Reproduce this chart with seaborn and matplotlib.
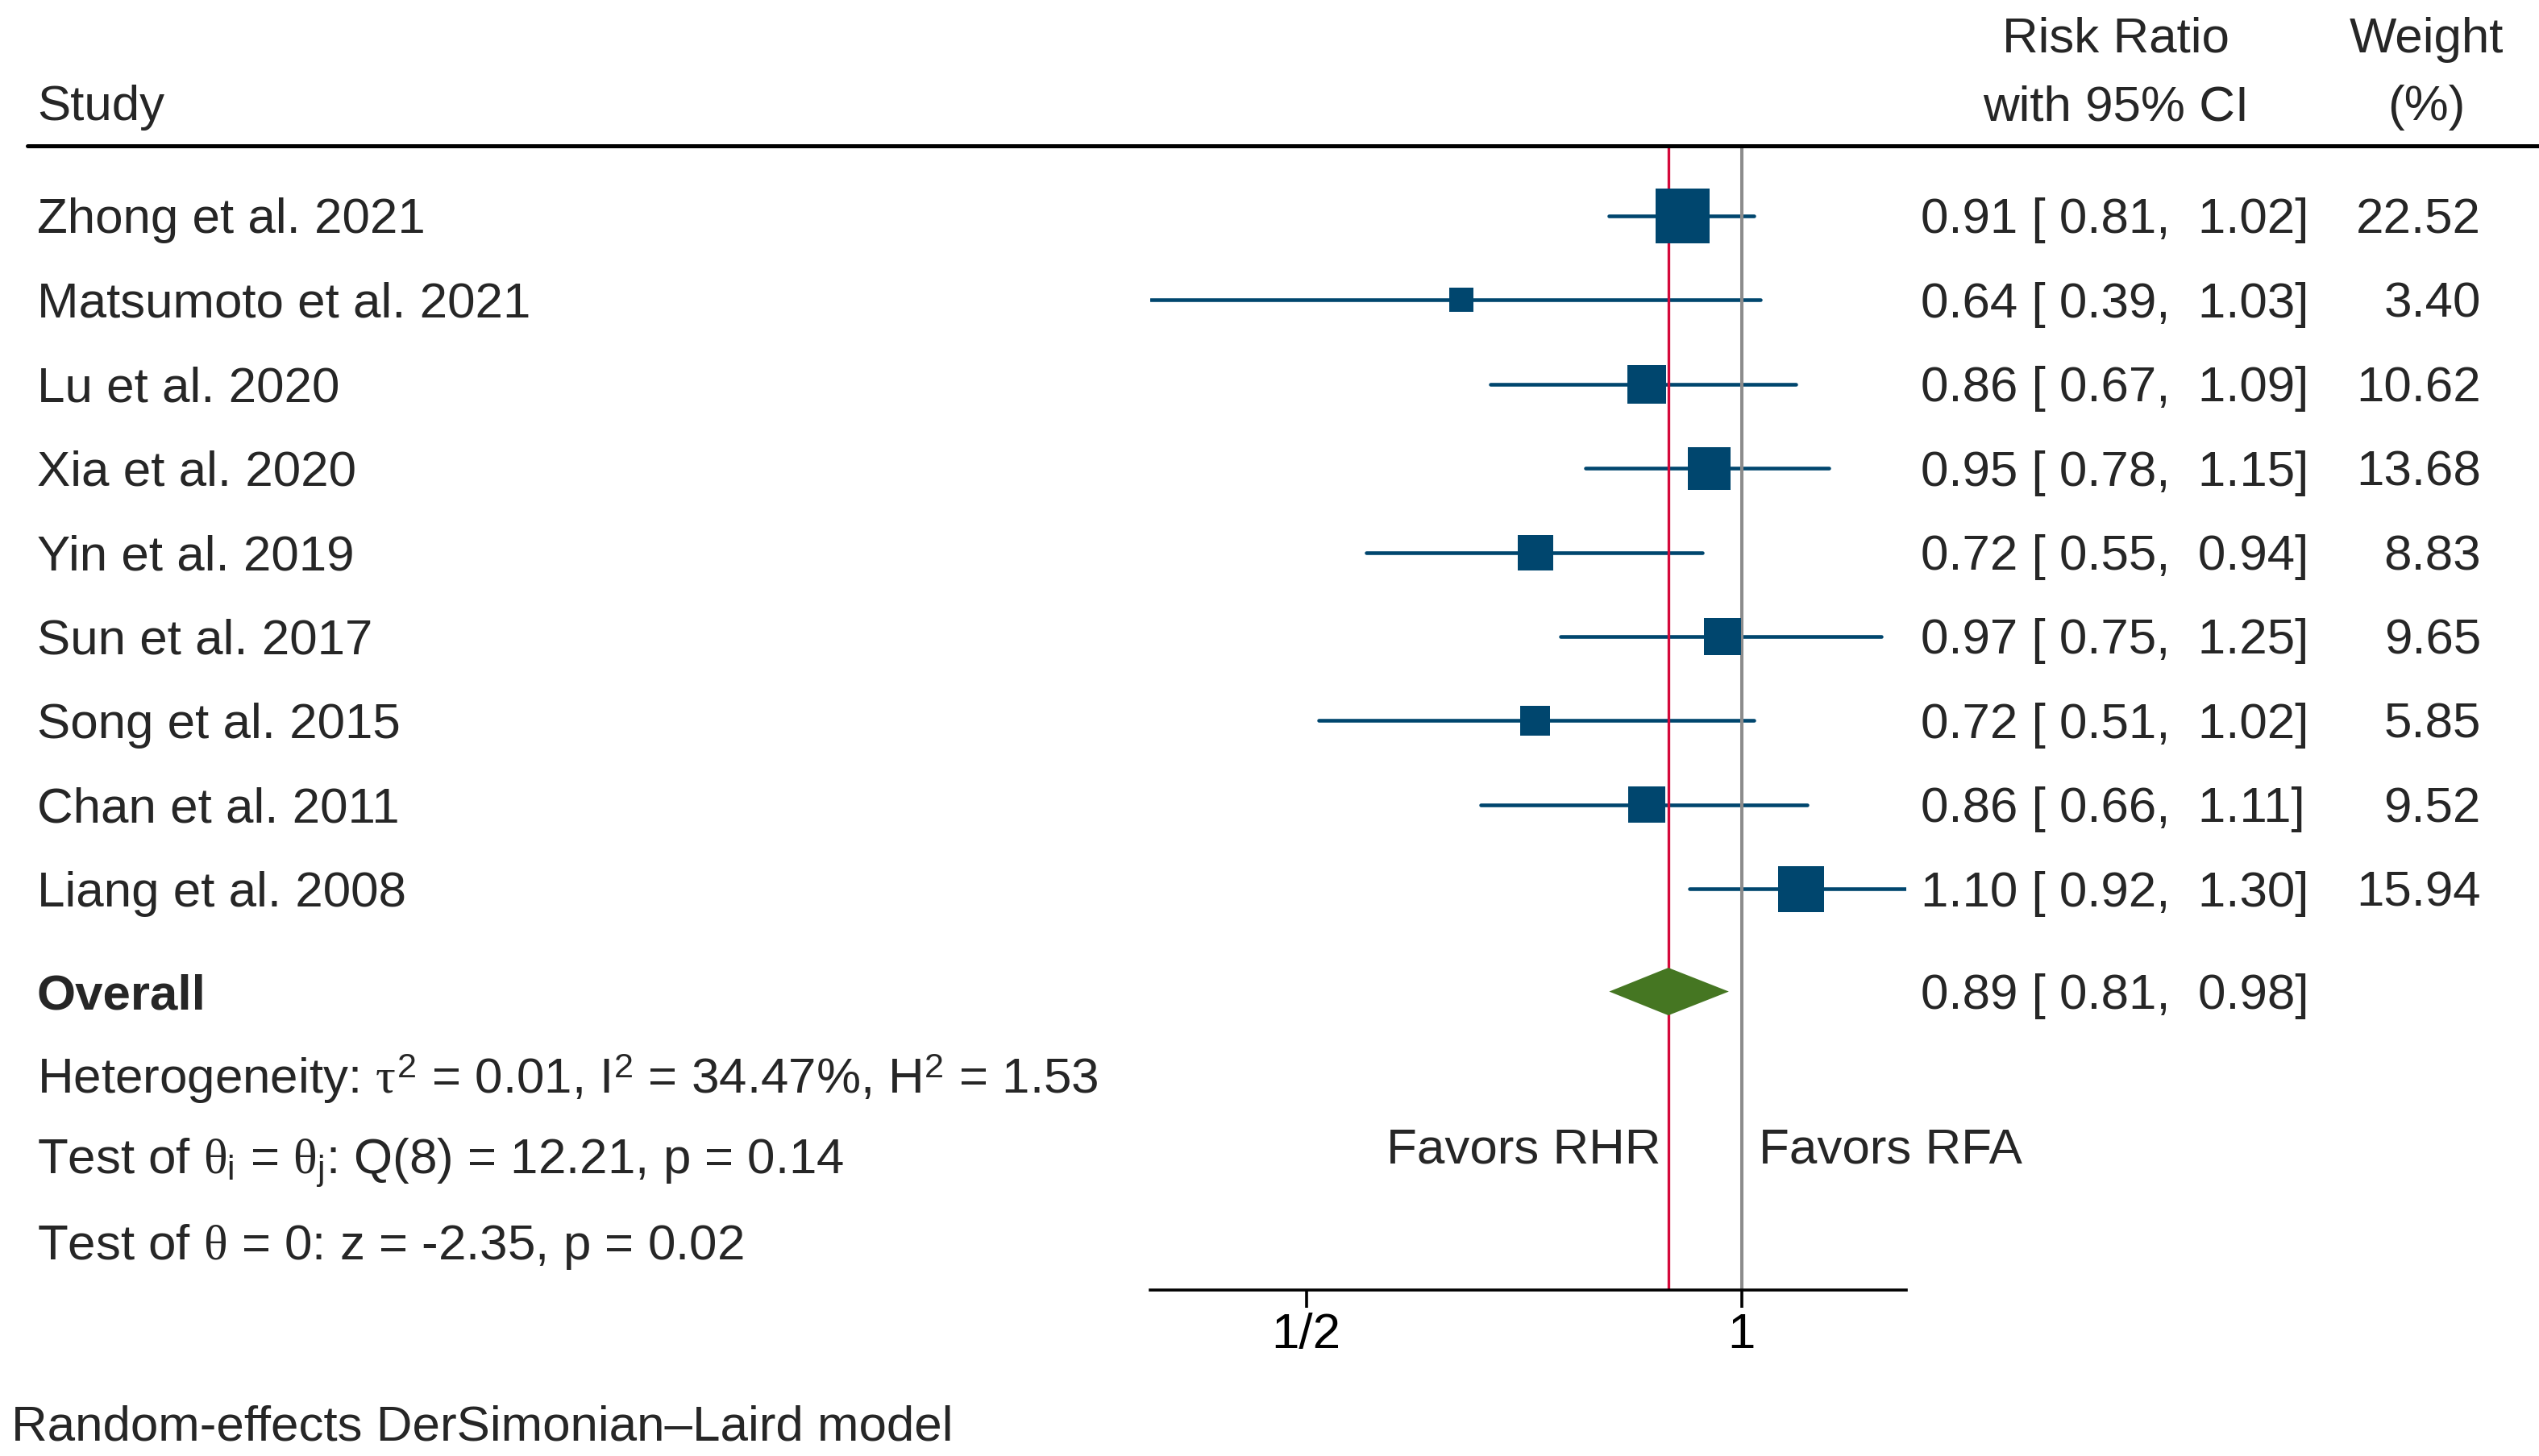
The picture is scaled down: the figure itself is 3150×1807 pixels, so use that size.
import numpy as np
import pandas as pd
import matplotlib
matplotlib.use("Agg")
import matplotlib.pyplot as plt
import matplotlib.transforms as mtransforms
from matplotlib.lines import Line2D
from matplotlib.ticker import NullLocator, FixedLocator, FixedFormatter
import seaborn as sns

# ---------------- data ----------------
studies = ["Zhong et al. 2021", "Matsumoto et al. 2021", "Lu et al. 2020", "Xia et al. 2020",
           "Yin et al. 2019", "Sun et al. 2017", "Song et al. 2015", "Chan et al. 2011",
           "Liang et al. 2008"]
rr = [0.91, 0.64, 0.86, 0.95, 0.72, 0.97, 0.72, 0.86, 1.10]
ci_low = [0.81, 0.39, 0.67, 0.78, 0.55, 0.75, 0.51, 0.66, 0.92]
ci_high = [1.02, 1.03, 1.09, 1.15, 0.94, 1.25, 1.02, 1.11, 1.30]
weights = [22.52, 3.40, 10.62, 13.68, 8.83, 9.65, 5.85, 9.52, 15.94]
overall_rr, overall_low, overall_high = 0.89, 0.81, 0.98
stat_lines = [
    r"Heterogeneity: $\tau^{\mathrm{2}}$ = 0.01, I$^{\mathrm{2}}$ = 34.47%, H$^{\mathrm{2}}$ = 1.53",
    r"Test of $\theta_{\mathrm{i}}$ = $\theta_{\mathrm{j}}$: Q(8) = 12.21, p = 0.14",
    r"Test of $\theta$ = 0: z = -2.35, p = 0.02",
]
xtick_values = [0.5, 1]
xtick_labels = ["1/2", "1"]
favor_left = "Favors RHR"
favor_right = "Favors RFA"
footnote = "Random-effects DerSimonian\u2013Laird model"

# ---------------- style ----------------
sns.set_theme(style="white")
plt.rcParams["font.family"] = ["Liberation Sans", "DejaVu Sans"]
plt.rcParams["mathtext.fontset"] = "custom"
plt.rcParams["mathtext.rm"] = "Liberation Sans"
plt.rcParams["mathtext.it"] = "Liberation Serif"
plt.rcParams["mathtext.bf"] = "Liberation Sans:bold"

NAVY = "#00466E"
GREEN = "#457622"
RED = "#D5093A"
GRAY = "#8C8C8C"
FS = 22.3

W, H, DPI = 3150, 1808, 200
fig = plt.figure(figsize=(W / DPI, H / DPI), dpi=DPI)
fig.patch.set_facecolor("white")

def fx(px):
    return px / W

def fy(py):
    return 1 - py / H

# axes: from header rule (y=182px) to x axis (y=1602px)
ax = fig.add_axes([fx(1427), fy(1602), 938 / W, (1602 - 182) / H])
ax.set_xscale("log", base=2)
ax.set_xlim(min(ci_low), max(ci_high))
row_px0, row_step = 269.0, 104.4
ax.set_ylim(1 + (1602 - row_px0) / row_step, 1 + (182 - row_px0) / row_step)
ax.set_facecolor("none")

rows = np.arange(1, len(studies) + 1)
df = pd.DataFrame({"study": studies, "rr": rr, "lo": ci_low, "hi": ci_high,
                   "weight": weights, "row": rows})

# CI lines
for _, r in df.iterrows():
    ax.plot([r["lo"], r["hi"]], [r["row"], r["row"]], color=NAVY, lw=1.65,
            solid_capstyle="round", zorder=1)

# reference lines
ax.axvline(overall_rr, color=RED, lw=1.2, zorder=2)
ax.axvline(1, color=GRAY, lw=1.45, zorder=2)

# weighted squares
sns.scatterplot(data=df, x="rr", y="row", size="weight", sizes=(117, 582),
                marker="s", color=NAVY, linewidth=0, edgecolor="none",
                legend=False, ax=ax, zorder=3)

# overall diamond
overall_row = 10.22
dh = 0.283
ax.fill([overall_low, overall_rr, overall_high, overall_rr],
        [overall_row, overall_row - dh, overall_row, overall_row + dh],
        color=GREEN, lw=0, zorder=3)

# axis styling
for s in ["left", "top", "right"]:
    ax.spines[s].set_visible(False)
ax.spines["bottom"].set_linewidth(1.3)
ax.spines["bottom"].set_color("black")
ax.set_yticks([])
ax.xaxis.set_major_locator(FixedLocator(xtick_values))
ax.xaxis.set_major_formatter(FixedFormatter(xtick_labels))
ax.xaxis.set_minor_locator(NullLocator())
ax.tick_params(axis="x", which="major", length=7.9, width=1.3, labelsize=FS,
               pad=2, color="black", labelcolor="black", bottom=True)
ax.set_xlabel("")
ax.set_ylabel("")

# ---------------- texts ----------------
down = mtransforms.ScaledTranslation(0, -5 / DPI, fig.dpi_scale_trans)
trans = mtransforms.blended_transform_factory(fig.transFigure, ax.transData) + down
ftrans = fig.transFigure + down
for _, r in df.iterrows():
    ax.text(fx(46), r["row"], r["study"], transform=trans, ha="left", va="center",
            fontsize=FS, clip_on=False)
    ax.text(fx(2383), r["row"], f"{r['rr']:.2f} [ {r['lo']:.2f},  {r['hi']:.2f}]",
            transform=trans, ha="left", va="center", fontsize=FS, clip_on=False)
    ax.text(fx(3078), r["row"], f"{r['weight']:.2f}", transform=trans, ha="right",
            va="center", fontsize=FS, clip_on=False)

ax.text(fx(46), overall_row, "Overall", transform=trans, ha="left", va="center",
        fontsize=FS, fontweight="bold", clip_on=False)
ax.text(fx(2383), overall_row, f"{overall_rr:.2f} [ {overall_low:.2f},  {overall_high:.2f}]",
        transform=trans, ha="left", va="center", fontsize=FS, clip_on=False)

trans_plain = mtransforms.blended_transform_factory(fig.transFigure, ax.transData)
for i, line in enumerate(stat_lines):
    ax.text(fx(46), overall_row + 1.03 + i, line, transform=trans_plain, ha="left",
            va="center", fontsize=FS, clip_on=False)

ax.text(fx(2060), 12.1, favor_left, transform=trans_plain, ha="right", va="center",
        fontsize=FS, clip_on=False)
ax.text(fx(2182), 12.1, favor_right, transform=trans_plain, ha="left", va="center",
        fontsize=FS, clip_on=False)

# headers
fig.text(fx(46), fy(129), "Study", ha="left", va="center", fontsize=FS, transform=ftrans)
fig.text(fx(2625), fy(44), "Risk Ratio", ha="center", va="center", fontsize=FS, transform=ftrans)
fig.text(fx(2625), fy(129), "with 95% CI", ha="center", va="center", fontsize=FS, transform=ftrans)
fig.text(fx(3010), fy(44), "Weight", ha="center", va="center", fontsize=FS, transform=ftrans)
fig.text(fx(3010), fy(129), "(%)", ha="center", va="center", fontsize=FS, transform=ftrans)
fig.add_artist(Line2D([fx(34), fx(3150)], [fy(182), fy(182)], transform=fig.transFigure,
                      color="black", lw=1.8))

fig.text(fx(14), fy(1772), footnote, ha="left", va="center", fontsize=FS)

fig.savefig("out.png", dpi=DPI, facecolor="white")
